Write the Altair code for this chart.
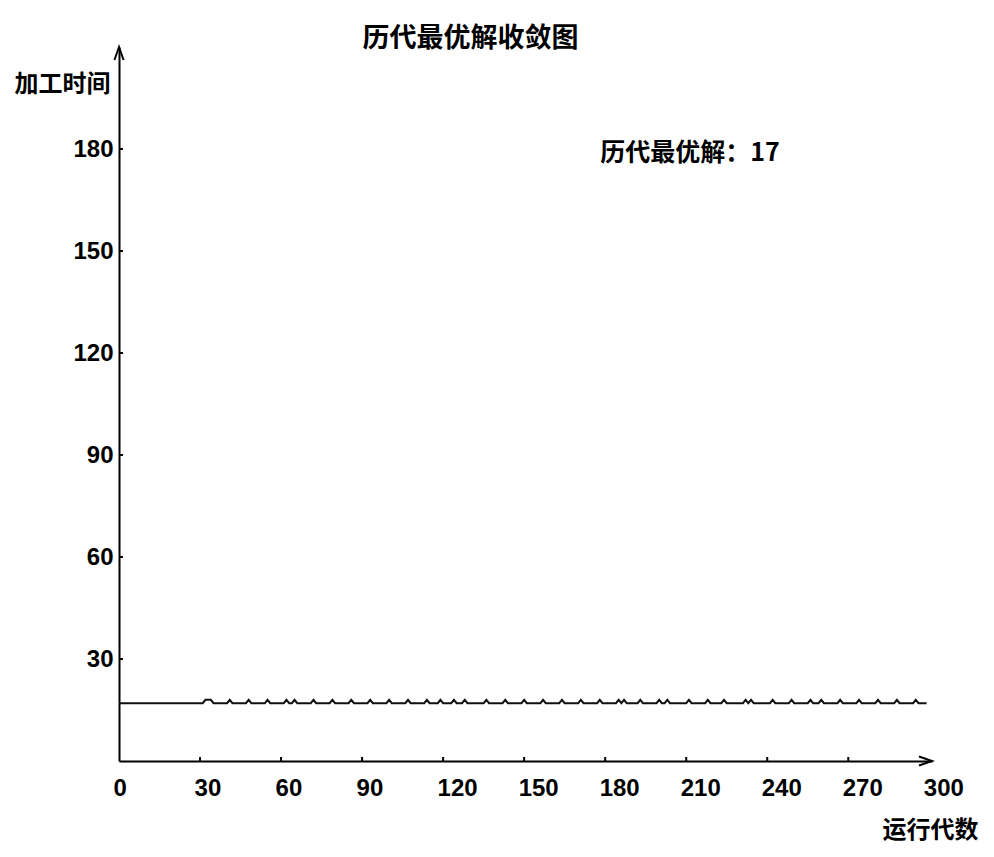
import altair as alt
import pandas as pd

# ---- data ----
generations = list(range(0, 300))
base_value = 17
# generations where the best-so-far value is drawn at 18 instead of 17
raised_generations = [32, 33, 34, 41, 48, 55, 62, 65, 72, 79, 86, 93, 100, 107,
                      114, 119, 124, 128, 136, 143, 150, 157, 164, 171, 178, 185,
                      187, 193, 200, 203, 211, 218, 224, 232, 234, 242, 249, 256,
                      260, 267, 274, 281, 288, 295]
raised_value = 18
best_value = 17

x_ticks = [0, 30, 60, 90, 120, 150, 180, 210, 240, 270, 300]
y_ticks = [30, 60, 90, 120, 150, 180]
inner_x_ticks = [30, 60, 90, 120, 150, 180, 210, 240, 270]

values = [raised_value if g in raised_generations else base_value for g in generations]
df = pd.DataFrame({"gen": generations, "val": values})

W, H = 813, 714
NUM_FONT = "Liberation Sans"
CJK_FONT = "Noto Sans CJK SC"

x_scale = alt.Scale(domain=[0, 301], nice=False, zero=False)
y_scale = alt.Scale(domain=[0, 210], nice=False)

x_axis = alt.Axis(
    values=x_ticks, title="运行代数", grid=False, ticks=False,
    domainColor="black", domainWidth=2,
    labelFont=NUM_FONT, labelFontSize=24, labelFontWeight="bold", labelColor="black",
    labelAlign="left", labelOffset=-6, labelBaseline="middle", labelPadding=27,
    labelFlush=False, labelOverlap=False,
    titleFont=CJK_FONT, titleFontSize=24, titleFontWeight="bold", titleColor="black",
    titleX=811, titleY=69, titleAlign="center", titleBaseline="middle", titleAngle=0,
)
y_axis = alt.Axis(
    values=y_ticks, title="加工时间", grid=False, ticks=False,
    domainColor="black", domainWidth=2,
    labelFont=NUM_FONT, labelFontSize=24, labelFontWeight="bold", labelColor="black",
    labelPadding=6, labelFlush=False, labelOverlap=False,
    titleFont=CJK_FONT, titleFontSize=24, titleFontWeight="bold", titleColor="black",
    titleX=-57, titleY=37, titleAlign="center", titleBaseline="middle", titleAngle=0,
)

line = alt.Chart(df).mark_line(color="#111111", strokeWidth=2).encode(
    x=alt.X("gen:Q", scale=x_scale, axis=x_axis),
    y=alt.Y("val:Q", scale=y_scale, axis=y_axis),
)

xt = alt.Chart(pd.DataFrame({"t": inner_x_ticks})).mark_rule(color="black", strokeWidth=2).encode(
    x=alt.X("t:Q", scale=x_scale),
    y=alt.value(H), y2=alt.value(H - 4),
)
yt = alt.Chart(pd.DataFrame({"t": y_ticks})).mark_rule(color="black", strokeWidth=2).encode(
    y=alt.Y("t:Q", scale=y_scale),
    x=alt.value(0), x2=alt.value(4),
)

y_arrow = alt.Chart(pd.DataFrame({"a": [0]})).mark_point(
    shape="M-0.35,1L0,0L0.35,1", size=676, filled=False, color="black", strokeWidth=2, opacity=1
).encode(x=alt.datum(0, scale=x_scale), y=alt.datum(210, scale=y_scale))

x_arrow = alt.Chart(pd.DataFrame({"a": [0]})).mark_point(
    shape="M-1,-0.35L0,0L-1,0.35", size=676, filled=False, color="black", strokeWidth=2, opacity=1
).encode(x=alt.datum(301, scale=x_scale), y=alt.datum(0, scale=y_scale))

note = alt.Chart(pd.DataFrame({"a": [0]})).mark_text(
    font=CJK_FONT, fontSize=25, fontWeight="bold", color="black", align="center", baseline="middle"
).encode(
    x=alt.value(571), y=alt.value(106),
    text=alt.value(f"历代最优解：{best_value}"),
)

chart = alt.layer(line, xt, yt, y_arrow, x_arrow, note).properties(
    width=W, height=H,
    background="white",
    title=alt.TitleParams(
        "历代最优解收敛图", font=CJK_FONT, fontSize=27, fontWeight="bold", color="black",
        anchor="middle", frame="group", baseline="middle", offset=0, dx=-55, dy=23,
    ),
    autosize=alt.AutoSizeParams(type="none"),
    padding={"left": 111, "top": 39, "right": 52, "bottom": 85},
).configure_view(stroke="transparent", strokeWidth=0)

chart.save("out.html", embed_options={"renderer": "svg", "actions": False})
